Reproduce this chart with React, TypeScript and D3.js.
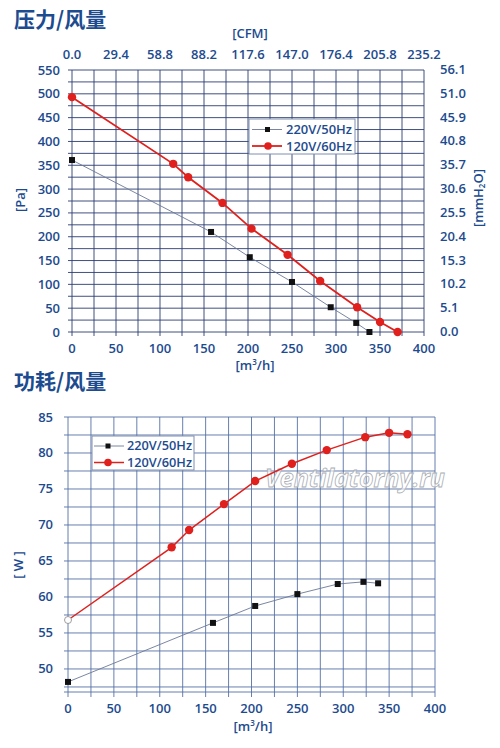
import React from 'react';
import * as d3 from 'd3';

// pressure / flow
const flowP220 = [0, 158, 202, 250, 294, 323, 338];
const pressure220 = [361, 210, 157, 105, 52, 19, 0];
const flowP120 = [0, 115, 132, 171, 204, 245, 282, 324, 350, 370];
const pressure120 = [493, 353, 325, 271, 217, 162, 107, 52, 21, 0];

// power / flow
const flowW220 = [0, 158, 204, 250, 294, 322, 338];
const power220 = [48.2, 56.4, 58.75, 60.4, 61.8, 62.1, 61.9];
const flowW120 = [0, 113, 132, 170, 204, 244, 282, 324, 350, 370];
const power120 = [56.8, 66.9, 69.3, 72.9, 76.1, 78.5, 80.4, 82.2, 82.8, 82.6];

const flowTicks = [0, 50, 100, 150, 200, 250, 300, 350, 400];
const cfmLabels = ['0.0', '29.4', '58.8', '88.2', '117.6', '147.0', '176.4', '205.8', '235.2'];
const paTicks = [0, 50, 100, 150, 200, 250, 300, 350, 400, 450, 500, 550];
const mmLabels = ['0.0', '5.1', '10.2', '15.3', '20.4', '25.5', '30.6', '35.7', '40.8', '45.9', '51.0', '56.1'];
const wTicks = [50, 55, 60, 65, 70, 75, 80, 85];
const seriesNames = ['220V/50Hz', '120V/60Hz'];

const BLUE = '#1d4b8f';
const RED = '#e0201c';
const FONT = '"Open Sans", "Noto Sans", sans-serif';
const CJK = '"Noto Sans CJK SC", sans-serif';

const zip = (xs: number[], ys: number[]) => xs.map((x, i) => [x, ys[i]] as [number, number]);

export default function App() {
  // top chart scales
  const x1 = d3.scaleLinear().domain([0, 400]).range([72, 424]);
  const y1 = d3.scaleLinear().domain([0, 550]).range([332, 70]);
  // bottom chart scales
  const x2 = d3.scaleLinear().domain([0, 400]).range([68, 435]);
  const y2 = d3.scaleLinear().domain([46.8, 85]).range([692, 417]);

  const line1 = d3.line<[number, number]>().x(d => x1(d[0])).y(d => y1(d[1]));
  const line2 = d3.line<[number, number]>().x(d => x2(d[0])).y(d => y2(d[1]));

  const grid1x = d3.range(0, 401, 25);
  const grid1y = d3.range(0, 551, 25);
  const grid2x = d3.range(0, 401, 25);
  const grid2y = d3.range(47.5, 85.1, 2.5);

  const p220 = zip(flowP220, pressure220);
  const p120 = zip(flowP120, pressure120);
  const w220 = zip(flowW220, power220);
  const w120 = zip(flowW120, power120);

  return (
    <svg width={500} height={748} style={{ position: 'absolute', left: 0, top: 0, background: '#fff' }}>
      {/* ---------- top chart ---------- */}
      <text x={14} y={27} fontFamily={CJK} fontWeight={700} fontSize={21} fill={BLUE}>压力/风量</text>
      <text x={250} y={38} textAnchor="middle" fontFamily={FONT} fontWeight={600} fontSize={13} fill={BLUE}>[CFM]</text>
      <g stroke="#2b3d72" strokeWidth={0.9}>
        {grid1x.map(v => <line key={'a' + v} x1={x1(v)} x2={x1(v)} y1={y1(550)} y2={y1(0) + 4} />)}
        {grid1y.map(v => <line key={'b' + v} x1={x1(0) - 4} x2={x1(400)} y1={y1(v)} y2={y1(v)} />)}
      </g>
      <g fontFamily={FONT} fontWeight={600} fontSize={13} fill={BLUE}>
        {flowTicks.map((v, i) => (
          <text key={'c' + v} x={x1(v)} y={59} textAnchor="middle">{cfmLabels[i]}</text>
        ))}
        {flowTicks.map(v => (
          <text key={'d' + v} x={x1(v)} y={353} textAnchor="middle">{v}</text>
        ))}
        {paTicks.map(v => (
          <text key={'e' + v} x={60} y={y1(v) + 4.5} textAnchor="end">{v}</text>
        ))}
        {paTicks.map((v, i) => (
          <text key={'f' + v} x={440} y={y1(v) + 4} textAnchor="start">{mmLabels[i]}</text>
        ))}
      </g>
      <text x={255} y={370} textAnchor="middle" fontFamily={FONT} fontWeight={600} fontSize={13} fill={BLUE}>
        [m<tspan dy={-5} fontSize={8}>3</tspan><tspan dy={5}>/h]</tspan>
      </text>
      <text transform="translate(25,200) rotate(-90)" textAnchor="middle" fontFamily={FONT} fontWeight={600} fontSize={13} fill={BLUE}>[Pa]</text>
      <text transform="translate(483,198) rotate(-90)" textAnchor="middle" fontFamily={FONT} fontWeight={600} fontSize={13} fill={BLUE}>
        [mmH<tspan fontSize={8} dy={2}>2</tspan><tspan dy={-2}>O]</tspan>
      </text>

      <path d={line1(p220) || ''} fill="none" stroke="#6b7896" strokeWidth={0.9} />
      {p220.map((d, i) => (
        <rect key={'g' + i} x={x1(d[0]) - 3} y={y1(d[1]) - 3} width={6} height={6} fill="#111" />
      ))}
      <path d={line1(p120) || ''} fill="none" stroke={RED} strokeWidth={1.8} />
      {p120.map((d, i) => (
        <circle key={'h' + i} cx={x1(d[0])} cy={y1(d[1])} r={4.2} fill={RED} />
      ))}

      <g>
        <rect x={249} y={119} width={106} height={35} fill="#fff" stroke="#7f8fb0" strokeWidth={1} />
        <line x1={252} x2={282} y1={129.5} y2={129.5} stroke="#6b7896" strokeWidth={0.9} />
        <rect x={265} y={127} width={5} height={5} fill="#111" />
        <line x1={252} x2={282} y1={146} y2={146} stroke={RED} strokeWidth={1.8} />
        <circle cx={268} cy={146} r={3.8} fill={RED} />
        <text x={286} y={133.8} textLength={66} lengthAdjust="spacingAndGlyphs" fontFamily={FONT} fontWeight={600} fontSize={12} fill={BLUE}>{seriesNames[0]}</text>
        <text x={286} y={150.5} textLength={66} lengthAdjust="spacingAndGlyphs" fontFamily={FONT} fontWeight={600} fontSize={12} fill={BLUE}>{seriesNames[1]}</text>
      </g>

      {/* ---------- bottom chart ---------- */}
      <text x={14} y={389} fontFamily={CJK} fontWeight={700} fontSize={21} fill={BLUE}>功耗/风量</text>
      <g stroke="#5670a6" strokeWidth={0.9}>
        {grid2x.map(v => <line key={'i' + v} x1={x2(v)} x2={x2(v)} y1={y2(85)} y2={y2(46.8) + 5} />)}
        {grid2y.map(v => <line key={'j' + v} x1={x2(0) - 4} x2={x2(400)} y1={y2(v)} y2={y2(v)} />)}
        <line x1={x2(0) - 4} x2={x2(400)} y1={y2(46.8)} y2={y2(46.8)} />
      </g>
      <text x={355} y={487} textAnchor="middle" fontFamily={FONT} fontStyle="italic" fontWeight={700} fontSize={25}
        fill="#fff" fillOpacity={0.6} stroke="#a8adb4" strokeWidth={0.8}>Ventilatorny.ru</text>
      <g fontFamily={FONT} fontWeight={600} fontSize={13} fill={BLUE}>
        {flowTicks.map(v => (
          <text key={'k' + v} x={x2(v)} y={713} textAnchor="middle">{v}</text>
        ))}
        {wTicks.map(v => (
          <text key={'l' + v} x={53} y={y2(v) + 4.5} textAnchor="end">{v}</text>
        ))}
      </g>
      <text x={253} y={731} textAnchor="middle" fontFamily={FONT} fontWeight={600} fontSize={13} fill={BLUE}>
        [m<tspan dy={-5} fontSize={8}>3</tspan><tspan dy={5}>/h]</tspan>
      </text>
      <text transform="translate(23,565) rotate(-90)" textAnchor="middle" fontFamily={FONT} fontWeight={600} fontSize={13} fill={BLUE}>[ W ]</text>

      <path d={line2(w220) || ''} fill="none" stroke="#6b7896" strokeWidth={0.9} />
      {w220.map((d, i) => (
        <rect key={'m' + i} x={x2(d[0]) - 3} y={y2(d[1]) - 3} width={6} height={6} fill="#111" />
      ))}
      <path d={line2(w120) || ''} fill="none" stroke={RED} strokeWidth={1.5} />
      {w120.map((d, i) => (
        <circle key={'n' + i} cx={x2(d[0])} cy={y2(d[1])} r={i === 0 ? 3.5 : 4.2}
          fill={i === 0 ? '#fff' : RED} stroke={i === 0 ? '#888' : 'none'} strokeWidth={0.8} />
      ))}

      <g>
        <rect x={92} y={436} width={102} height={34} fill="#fff" stroke="#7f8fb0" strokeWidth={1} />
        <line x1={94} x2={124} y1={446} y2={446} stroke="#6b7896" strokeWidth={0.9} />
        <rect x={105.5} y={443.5} width={5} height={5} fill="#111" />
        <line x1={94} x2={124} y1={462.5} y2={462.5} stroke={RED} strokeWidth={1.5} />
        <circle cx={108} cy={462.5} r={3.8} fill={RED} />
        <text x={127} y={450.3} textLength={65} lengthAdjust="spacingAndGlyphs" fontFamily={FONT} fontWeight={600} fontSize={12} fill={BLUE}>{seriesNames[0]}</text>
        <text x={127} y={467} textLength={65} lengthAdjust="spacingAndGlyphs" fontFamily={FONT} fontWeight={600} fontSize={12} fill={BLUE}>{seriesNames[1]}</text>
      </g>
    </svg>
  );
}
